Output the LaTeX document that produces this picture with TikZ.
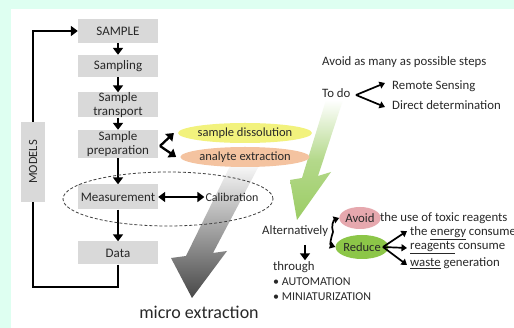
\documentclass[tikz,border=0pt]{standalone}
\usepackage{fontspec}
\setmainfont{Carlito}
\usetikzlibrary{arrows.meta,shapes.geometric,calc}
\definecolor{mint}{RGB}{222,255,241}
\definecolor{boxgray}{RGB}{217,217,217}
\definecolor{ylw}{RGB}{242,242,125}
\definecolor{peach}{RGB}{244,195,160}
\definecolor{pinkish}{RGB}{230,168,174}
\definecolor{grn}{RGB}{140,198,72}
\definecolor{lgrn}{RGB}{155,204,100}
\definecolor{txt}{RGB}{40,40,40}
\tikzset{
  stepbox/.style={fill=boxgray, minimum width=80pt, align=center, inner sep=0pt,
    font=\fontsize{13}{13.5}\selectfont, text=txt},
  arr/.style={line width=2.3pt, -{Triangle[length=7pt,width=10pt]}},
  darr/.style={line width=2.3pt, {Triangle[length=7pt,width=10pt]}-{Triangle[length=7pt,width=10pt]}},
  sarr/.style={line width=1.7pt, -{Triangle[length=5.5pt,width=7pt]}},
  plain/.style={line width=2.3pt},
  lbl/.style={font=\fontsize{12.8}{14}\selectfont, text=txt, inner sep=1pt},
  oval/.style={ellipse, inner sep=0pt, font=\fontsize{12.5}{14}\selectfont, text=txt},
}
\begin{document}
\begin{tikzpicture}[x=1pt,y=-1pt]
\useasboundingbox (0,0) rectangle (514,328);
\fill[mint] (0,0) rectangle (514,328);
\fill[white] (11,9) rectangle (514,328);

% big shaded arrows
\shade[top color=white, bottom color=black!72]
  (233,160) -- (262,160) -- (213,253) -- (227,251) -- (192,298) -- (171,258) -- (186,256) -- cycle;
\shade[top color=white, bottom color=lgrn, middle color=lgrn!75!white]
  (326,100) -- (343,100) -- (318,176) -- (331,172) -- (297,220) -- (290,180) -- (302,178) -- cycle;

% left column
\node[stepbox, minimum height=24pt] (sample) at (118,31) {SAMPLE};
\node[stepbox, minimum height=22pt] (sampling) at (118,66) {Sampling};
\node[stepbox, minimum height=25pt] (transport) at (118,105) {Sample\\transport};
\node[stepbox, minimum height=28pt] (prep) at (118,144) {Sample\\preparation};
\node[stepbox, minimum height=25pt] (meas) at (118,197) {Measurement};
\node[stepbox, minimum height=23pt] (data) at (118,253) {Data};
\node[stepbox, minimum width=80pt, minimum height=24pt, rotate=90, font=\fontsize{12.5}{13}\selectfont] (models) at (33,162) {MODELS};

\draw[arr] (sample) -- (sampling);
\draw[arr] (sampling) -- (transport);
\draw[arr] (transport) -- (prep);
\draw[arr] (prep) -- (meas);
\draw[arr] (meas) -- (data);
\draw[arr] (models.east) |- (sample.west);
\draw[plain] (data.south) -- ++(0,22) -| (models.west);

% ellipses
\node[oval, fill=ylw, minimum width=124pt, minimum height=20pt] (dissol) at (245,133) {sample dissolution};
\node[oval, fill=peach, minimum width=124pt, minimum height=20pt] (extract) at (245,157) {analyte extraction};
\coordinate (pv) at (160,146);
\draw[arr] (pv) -- ($(dissol.west)+(-4,0)$);
\draw[arr] (pv) -- ($(extract.west)+(-4,0)$);

% calibration
\node[lbl, font=\fontsize{12}{14}\selectfont] (calib) at (232,197) {Calibration};
\draw[darr] (meas.east) -- (calib.west);
\node[draw=black!75, dash pattern=on 3pt off 2pt, line width=0.8pt, ellipse,
  minimum width=210pt, minimum height=54pt] (loop) at (168,199) {};

\node[font=\fontsize{18}{20}\selectfont, text=txt] (micro) at (199,312) {micro extraction};

% right top
\node[lbl, anchor=west] (avsteps) at (321,62) {Avoid as many as possible steps};
\node[lbl, anchor=west] (todo) at (321,93) {To do};
\node[lbl, anchor=west] (remote) at (391,86) {Remote Sensing};
\node[lbl, anchor=west] (direct) at (391,105) {Direct determination};
\coordinate (tv) at (356,95);
\draw[sarr] (tv) -- ($(remote.west)+(-6,-3)$);
\draw[sarr] (tv) -- ($(direct.west)+(-6,2)$);

% right bottom
\node[lbl, anchor=west] (alt) at (261,231) {Alternatively};
\node[lbl, anchor=west] (through) at (272,267) {through};
\node[lbl, anchor=west, font=\fontsize{12}{14}\selectfont] (auto) at (272,282) {\textbullet\ AUTOMATION};
\node[lbl, anchor=west, font=\fontsize{12}{14}\selectfont] (mini) at (272,297) {\textbullet\ MINIATURIZATION};
\draw[arr] (305,245) -- (through.north -| 305,0);

\node[oval, fill=pinkish, minimum width=37pt, minimum height=22pt, font=\fontsize{12.8}{14}\selectfont] (avoid) at (360,218) {Avoid};
\node[lbl, anchor=west] (toxic) at (379,218) {the use of toxic reagents};
\node[oval, fill=grn, minimum width=42pt, minimum height=24pt] (reduce) at (362,247) {Reduce};
\coordinate (av) at (333,232);
\draw[sarr] (av) to[out=110,in=200] (avoid.west);
\draw[sarr] (av) to[out=-110,in=160] (reduce.west);

\node[lbl, anchor=west] (energy) at (409,233) {the \underline{energy} consume};
\node[lbl, anchor=west] (reag) at (409,248) {\underline{reagents} consume};
\node[lbl, anchor=west] (waste) at (409,263) {\underline{waste} generation};
\coordinate (rv) at (383,247);
\draw[sarr] (rv) -- ($(energy.west)+(-2,-2)$);
\draw[sarr] (rv) -- ($(reag.west)+(-2,0)$);
\draw[sarr] (rv) -- ($(waste.west)+(-2,2)$);
\end{tikzpicture}
\end{document}
